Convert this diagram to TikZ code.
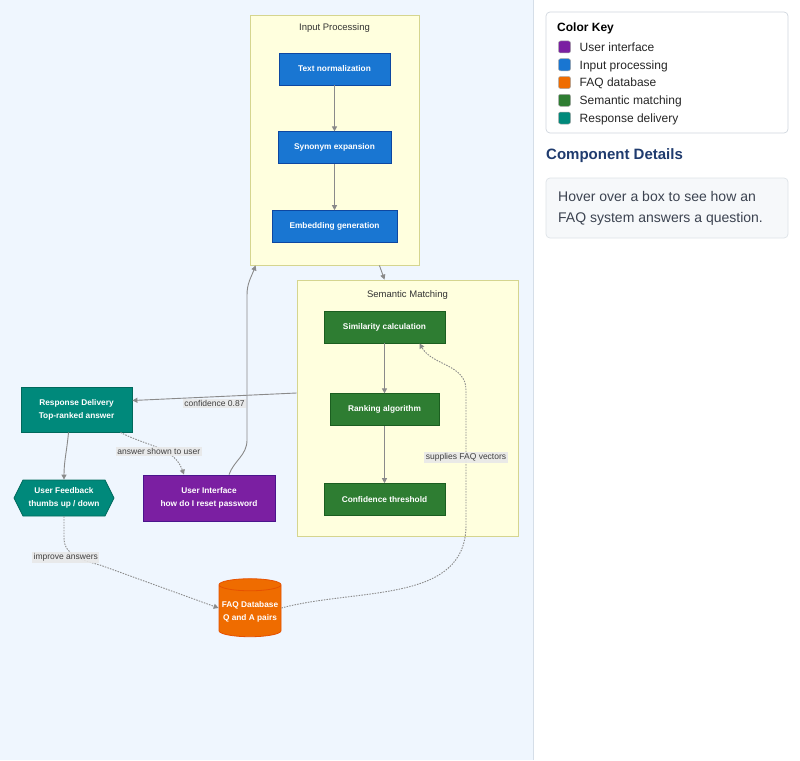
\documentclass[tikz,border=0pt]{standalone}
\usepackage{fontspec}
\setmainfont{Liberation Sans}
\usepackage{xcolor}
\usepackage{tikz}
\usetikzlibrary{positioning, arrows.meta, shapes.geometric, shapes.symbols}

\definecolor{canvas}{HTML}{EFF6FE}
\definecolor{clusterfill}{HTML}{FFFFDE}
\definecolor{clusterline}{HTML}{D5D58F}
\definecolor{inblue}{HTML}{1976D2}
\definecolor{inblueline}{HTML}{0D47A1}
\definecolor{semgreen}{HTML}{2E7D32}
\definecolor{semgreenline}{HTML}{1B5E20}
\definecolor{respteal}{HTML}{00897B}
\definecolor{resptealline}{HTML}{00695C}
\definecolor{uipurple}{HTML}{7B1FA2}
\definecolor{uipurpleline}{HTML}{4A148C}
\definecolor{faqorange}{HTML}{EF6C00}
\definecolor{faqorangeline}{HTML}{E65100}
\definecolor{edgegray}{HTML}{8A8A8A}
\definecolor{labelgray}{HTML}{E8E8E8}
\definecolor{paneline}{HTML}{D5DEE8}
\definecolor{keyline}{HTML}{D0D7DE}
\definecolor{detailfill}{HTML}{F6F8FA}
\definecolor{detailhead}{HTML}{1F3B6E}
\definecolor{detailtext}{HTML}{3C4350}

\tikzset{
    comp/.style       = {draw, line width=0.8pt, align=center, inner sep=2pt,
                         minimum height=32pt, text=white,
                         font=\bfseries\fontsize{8.3}{13}\selectfont},
    procbox/.style    = {comp, fill=inblue, draw=inblueline},
    matchbox/.style   = {comp, fill=semgreen, draw=semgreenline},
    respbox/.style    = {comp, fill=respteal, draw=resptealline},
    uibox/.style      = {comp, fill=uipurple, draw=uipurpleline},
    dbshape/.style    = {comp, cylinder, shape border rotate=90, aspect=0.2,
                         fill=faqorange, draw=faqorangeline},
    feedshape/.style  = {comp, signal, signal to=west and east,
                         signal pointer angle=127, fill=respteal, draw=resptealline},
    cluster/.style    = {draw=clusterline, fill=clusterfill, line width=0.8pt},
    clustertitle/.style = {font=\fontsize{9.5}{11}\selectfont, text=black!80},
    link/.style       = {-{Triangle[length=5pt, width=5pt]}, draw=edgegray, line width=0.9pt},
    flow/.style       = {link, dash pattern=on 1.5pt off 1.2pt},
    edgelabel/.style  = {fill=labelgray, fill opacity=0.9, text opacity=1, text=black!75,
                         font=\fontsize{8.5}{10}\selectfont, inner sep=1.5pt},
    keybox/.style     = {draw=keyline, fill=white, rounded corners=4pt, line width=0.7pt},
    swatch/.style     = {draw=black!35, rounded corners=2pt, minimum size=12pt,
                         inner sep=0pt, line width=0.5pt},
    keytext/.style    = {font=\fontsize{12}{14}\selectfont, text=black!85, inner sep=0pt,
                         anchor=base west},
    detailbox/.style  = {draw=keyline!70, fill=detailfill, rounded corners=4pt, line width=0.7pt}
}

\begin{document}
\begin{tikzpicture}[x=1pt, y=1pt]
    \useasboundingbox (0,0) rectangle (800,-760);
    \fill[canvas] (0,0) rectangle (533,-760);
    \fill[white] (533,0) rectangle (800,-760);
    \draw[paneline, line width=1pt] (533.5,0) -- (533.5,-760);

    \node[cluster, minimum width=169pt, minimum height=250pt] (inproc) at (334.5,-140) {};
    \node[clustertitle] (inproctitle) at (334.5,-28) {Input Processing};
    \node[procbox, minimum width=111pt] (tnorm) at (334.5,-69) {Text normalization};
    \node[procbox, minimum width=113pt, below=46pt of tnorm] (synexp) {Synonym expansion};
    \node[procbox, minimum width=125pt, below=46pt of synexp] (embgen) {Embedding generation};

    \node[cluster, minimum width=221pt, minimum height=256pt] (semmatch) at (407.5,-408) {};
    \node[clustertitle] (semtitle) at (407.5,-295) {Semantic Matching};
    \node[matchbox, minimum width=121pt] (simcalc) at (384.5,-327) {Similarity calculation};
    \node[matchbox, minimum width=109pt, below=50pt of simcalc] (ranking) {Ranking algorithm};
    \node[matchbox, minimum width=121pt, below=57pt of ranking] (confth) {Confidence threshold};

    \node[respbox, minimum width=111pt, minimum height=45pt] (respdel) at (76.5,-409.5)
        {Response Delivery\\Top-ranked answer};
    \node[feedshape, minimum width=100pt, minimum height=36pt] (fback) at (64,-498)
        {User Feedback\\thumbs up / down};
    \node[uibox, minimum width=132pt, minimum height=46pt] (ui) at (209,-498)
        {User Interface\\how do I reset password};
    \node[dbshape, minimum width=62pt, minimum height=58pt] (faqdb) at (250,-612)
        {FAQ Database\\Q and A pairs};

    \draw[link] (tnorm) -- (synexp);
    \draw[link] (synexp) -- (embgen);
    \draw[link] ([xshift=-40pt]inproc.south east) -- ([xshift=-23pt]semmatch.north);
    \draw[link] (simcalc) -- (ranking);
    \draw[link] (ranking) -- (confth);
    \draw[link] ([xshift=20pt]ui.north) to[out=70, in=-90] (247,-440) -- (247,-295)
        to[out=90, in=-110] ([xshift=6pt]inproc.south west);
    \draw[link] ([yshift=15pt]semmatch.west) -- node[edgelabel, yshift=-7pt] {confidence 0.87}
        ([yshift=9pt]respdel.east);
    \draw[link] ([xshift=-8pt]respdel.south) to[out=-95, in=90] (fback.north);
    \draw[flow] ([xshift=44pt]respdel.south) to[out=-28, in=110]
        node[edgelabel, pos=0.6, xshift=-6pt] {answer shown to user} ([xshift=-25pt]ui.north);
    \draw[flow] (fback.south) -- (64,-538) to[out=-90, in=165]
        node[edgelabel, pos=0.55, xshift=-12pt] {improve answers} (100,-565)
        -- ([yshift=4pt]faqdb.west);
    \draw[flow] ([yshift=4pt]faqdb.east) to[out=15, in=-90] (466,-525)
        -- node[edgelabel] {supplies FAQ vectors} (466,-390)
        to[out=90, in=-60] ([xshift=35pt]simcalc.south);

    \node[keybox, minimum width=242pt, minimum height=121pt] (colorkey) at (667,-72.5) {};
    \node[anchor=west, inner sep=0pt, font=\bfseries\fontsize{12}{14}\selectfont] (keyhead)
        at (557,-28) {Color Key};
    \node[swatch, fill=uipurple] (swui) at (564.5,-47) {};
    \node[keytext] (keyui) at ([xshift=15pt, yshift=-4.3pt]swui.center) {User interface};
    \node[swatch, fill=inblue, below=5.25pt of swui] (swproc) {};
    \node[keytext] (keyproc) at ([xshift=15pt, yshift=-4.3pt]swproc.center) {Input processing};
    \node[swatch, fill=faqorange, below=5.25pt of swproc] (swfaq) {};
    \node[keytext] (keyfaq) at ([xshift=15pt, yshift=-4.3pt]swfaq.center) {FAQ database};
    \node[swatch, fill=semgreen, below=5.25pt of swfaq] (swmatch) {};
    \node[keytext] (keymatch) at ([xshift=15pt, yshift=-4.3pt]swmatch.center) {Semantic matching};
    \node[swatch, fill=respteal, below=5.25pt of swmatch] (swresp) {};
    \node[keytext] (keyresp) at ([xshift=15pt, yshift=-4.3pt]swresp.center) {Response delivery};

    \node[anchor=west, inner sep=0pt, text=detailhead,
        font=\bfseries\fontsize{15}{17}\selectfont] (dethead) at (546,-156) {Component Details};
    \node[detailbox, minimum width=242pt, minimum height=60pt] (details) at (667,-208) {};
    \node[anchor=west, align=left, inner sep=0pt, text=detailtext,
        font=\fontsize{14}{21}\selectfont] (dettext) at (558,-208.5)
        {Hover over a box to see how an\\FAQ system answers a question.};
\end{tikzpicture}
\end{document}
